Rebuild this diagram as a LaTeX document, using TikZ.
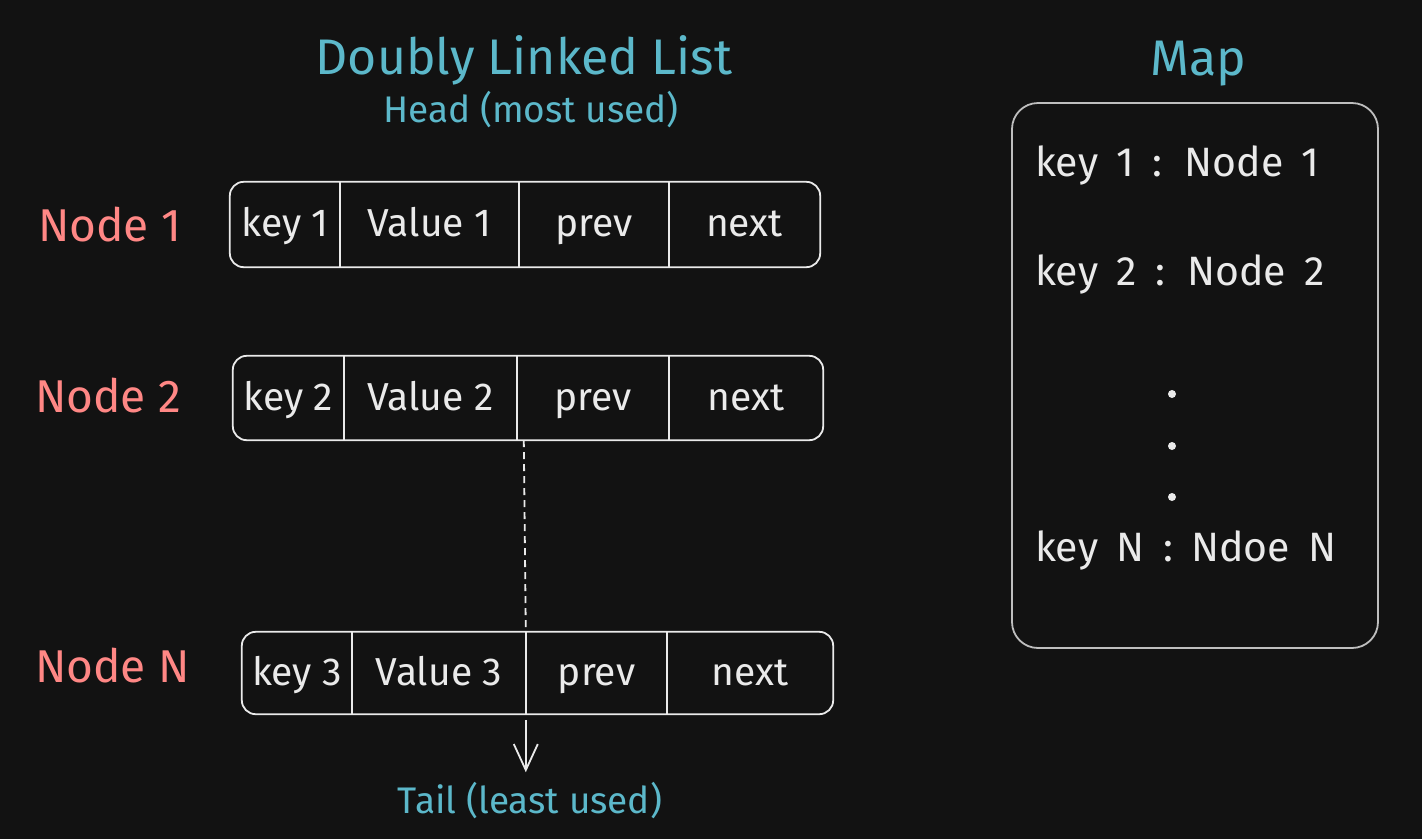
\documentclass[tikz,border=0pt]{standalone}
\usepackage{fontspec}
\setmainfont{Fira Sans}
\usetikzlibrary{arrows.meta}
\definecolor{bg}{HTML}{121212}
\definecolor{ink}{HTML}{EAEAEA}
\definecolor{cyanink}{HTML}{5CB8CA}
\definecolor{redink}{HTML}{FF8785}
\definecolor{mapline}{HTML}{BEBEBE}
\newcommand\mapwidespace{\spaceskip=0.45em\relax}
\tikzset{
  cell/.style={draw=none, inner sep=0pt, text=ink, font=\fontsize{39}{44}\selectfont,
    text height=30pt, text depth=6pt},
  rowbox/.style={draw=ink, line width=1.8pt, rounded corners=14pt},
  divider/.style={draw=ink, line width=1.8pt},
  redlabel/.style={text=redink, font=\fontsize{46}{52}\selectfont, inner sep=0pt},
  title/.style={text=cyanink, font=\fontsize{50}{56}\selectfont, inner sep=0pt},
  subtitle/.style={text=cyanink, font=\fontsize{37}{42}\selectfont, inner sep=0pt},
  mapentry/.style={text=ink, font=\fontsize{41}{46}\selectfont\mapwidespace, inner sep=0pt, anchor=west},
  mapbox/.style={draw=mapline, line width=1.8pt, rounded corners=26pt, inner sep=0pt},
  dot/.style={circle, fill=ink, draw=none, inner sep=0pt, minimum size=8pt},
  link/.style={draw=ink, line width=1.8pt},
}
\begin{document}
\begin{tikzpicture}[x=1pt, y=-1pt]
\fill[bg] (0,0) rectangle (1422,839);
\useasboundingbox (0,0) rectangle (1422,839);

% titles
\node[title] (dll) at (524,60) {Doubly Linked List};
\node[subtitle] (head) at (531,110) {Head (most used)};
\node[title] (maptitle) at (1198,64) {Map};

% row labels
\node[redlabel, anchor=west] (l1) at (38,225) {Node 1};
\node[redlabel, anchor=west] (l2) at (35,396) {Node 2};
\node[redlabel, anchor=west] (lN) at (35,666) {Node N};

% row 1 : y 182..267
\node[cell, minimum width=110pt, minimum height=85pt] (k1) at (285,224.5) {key 1};
\node[cell, minimum width=179pt, minimum height=85pt] (v1) at (429.5,224.5) {Value 1};
\node[cell, minimum width=150pt, minimum height=85pt] (p1) at (594,224.5) {prev};
\node[cell, minimum width=151pt, minimum height=85pt] (n1) at (744.5,224.5) {next};
\draw[rowbox] (k1.north west) rectangle (n1.south east);
\draw[divider] (k1.north east) -- (k1.south east);
\draw[divider] (v1.north east) -- (v1.south east);
\draw[divider] (p1.north east) -- (p1.south east);

% row 2 : y 356..440
\node[cell, minimum width=111pt, minimum height=84pt] (k2) at (288.5,398) {key 2};
\node[cell, minimum width=173pt, minimum height=84pt] (v2) at (430.5,398) {Value 2};
\node[cell, minimum width=152pt, minimum height=84pt] (p2) at (593,398) {prev};
\node[cell, minimum width=154pt, minimum height=84pt] (n2) at (746,398) {next};
\draw[rowbox] (k2.north west) rectangle (n2.south east);
\draw[divider] (k2.north east) -- (k2.south east);
\draw[divider] (v2.north east) -- (v2.south east);
\draw[divider] (p2.north east) -- (p2.south east);

% row N : y 632..714
\node[cell, minimum width=110pt, minimum height=82pt] (kN) at (297,673) {key 3};
\node[cell, minimum width=174pt, minimum height=82pt] (vN) at (439,673) {Value 3};
\node[cell, minimum width=141pt, minimum height=82pt] (pN) at (596.5,673) {prev};
\node[cell, minimum width=166pt, minimum height=82pt] (nN) at (750,673) {next};
\draw[rowbox] (kN.north west) rectangle (nN.south east);
\draw[divider] (kN.north east) -- (kN.south east);
\draw[divider] (vN.north east) -- (vN.south east);
\draw[divider] (pN.north east) -- (pN.south east);

% dashed link and tail arrow
\draw[link, dashed, dash pattern=on 7pt off 5pt] ([xshift=7pt]p2.south west) -- (pN.north west);
\node[subtitle] (tail) at (530,801) {Tail (least used)};
\draw[link, -{Straight Barb[length=26pt, width=24pt, line width=1.8pt]}]
  ([yshift=-6pt]pN.south west) -- ([yshift=-58pt]pN.south west);

% map
\node[mapbox, minimum width=366pt, minimum height=545pt] (map) at (1195,375.5) {};
\node[mapentry] (m1) at (1035,165) {key 1 : Node 1};
\node[mapentry] (m2) at (1035,274) {key 2 : Node 2};
\node[dot] (d1) at (1172,394) {};
\node[dot] (d2) at (1172,446) {};
\node[dot] (d3) at (1172,497) {};
\node[mapentry] (mN) at (1035,550) {key N : Ndoe N};
\end{tikzpicture}
\end{document}
